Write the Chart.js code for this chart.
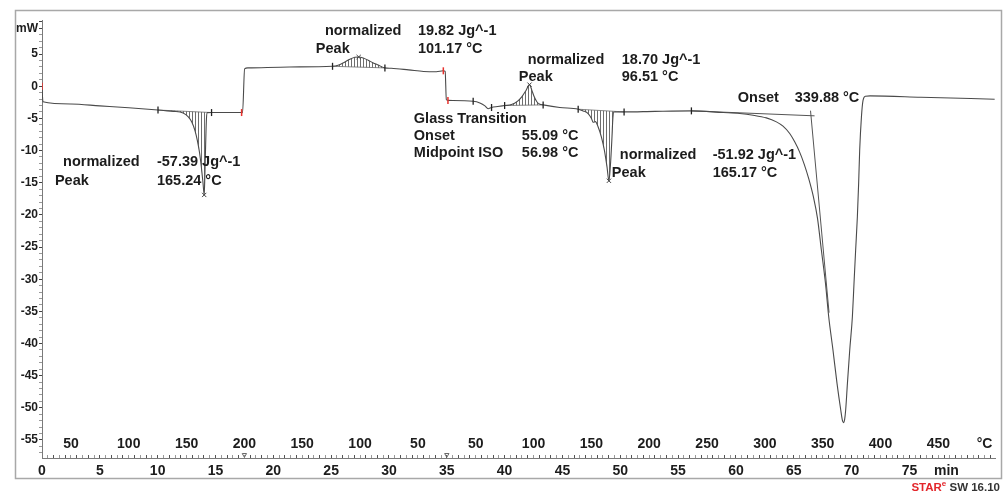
<!DOCTYPE html>
<html>
<head>
<meta charset="utf-8">
<title>DSC</title>
<script src="https://cdn.jsdelivr.net/npm/chart.js@4.4.1/dist/chart.umd.min.js"></script>
<style>
  html, body { margin: 0; padding: 0; background: #fff; }
  canvas { display: block; }
</style>
</head>
<body>
<canvas id="dscChart" width="1008" height="493"></canvas>
<script>
// heat flow curve, one pair of arrays per program segment (time in min, heat flow in mW)
const heat1T = [0, 0.08, 2.5, 5, 7.5, 10.03, 10.5, 11.35, 12.2, 12.65, 12.95, 13.22, 13.43, 13.62, 13.78, 13.92, 14.024, 14.08, 14.15, 14.22, 14.3, 14.66, 17.26, 17.34];
const heat1MW = [0, -2.4, -2.75, -3.05, -3.35, -3.7, -3.78, -3.9, -4.15, -4.75, -5.55, -6.85, -8.4, -10.3, -12.6, -15.0, -16.9, -14.0, -9.0, -5.0, -4.1, -4.09, -4.09, -4.1];

const coolT = [17.52, 17.8, 21.4, 25.12, 25.6, 26.19, 26.62, 27.05, 27.383, 27.77, 28.2, 28.6, 29.07, 29.65, 30.2, 31.7, 33.0, 34.1, 34.7, 34.86, 34.96];
const coolMW = [2.7, 2.85, 3.0, 3.1, 3.26, 3.78, 4.19, 4.5, 4.55, 4.4, 4.04, 3.67, 3.3, 2.85, 2.8, 2.55, 2.3, 2.25, 2.4, 2.3, -2.1];

const heat2T = [35.1, 37.28, 37.86, 38.3, 38.57, 38.87, 39.4, 40.0, 40.6, 41.1,
  41.5, 41.85, 42.151, 42.35, 42.55, 42.8, 43.05, 43.33, 44.77, 46.36,
  46.79, 47.22, 47.51, 47.65, 47.85, 48.08, 48.37, 48.62, 48.85, 49.017,
  49.14, 49.27, 49.35, 49.42, 50.33, 53.0, 56.15, 58.9, 60.33, 61.48,
  62.63, 63.5, 64.07, 64.65, 65.08, 65.5, 65.9, 66.3, 66.7, 67.05,
  67.39, 67.74, 68.02, 68.39, 68.74, 69.06, 69.2, 69.3, 69.4, 69.49,
  69.64, 69.84, 70.07, 70.21, 70.35, 70.5, 70.61, 70.7, 70.85, 70.99,
  71.2, 71.6, 76.0, 82.37];
const heat2MW = [-2.2, -2.33, -2.59, -3.05, -3.5, -3.3, -3.15, -3.0, -2.85, -2.35,
  -1.6, -0.65, 0.25, -0.6, -1.6, -2.45, -2.8, -2.9, -3.3, -3.57,
  -3.83, -4.24, -5.0, -5.6, -5.5, -6.3, -7.9, -9.9, -12.5, -14.7,
  -12.5, -8.4, -5.3, -4.0, -3.99, -3.9, -3.83, -4.09, -4.24, -4.5,
  -4.92, -5.54, -6.21, -7.35, -8.64, -10.2, -12.1, -14.4, -17.2, -20.5,
  -25.5, -30.6, -35.8, -41.0, -46.2, -50.3, -51.9, -52.3, -51.8, -50.3,
  -46.2, -41.0, -35.8, -30.6, -25.5, -20.3, -15.1, -9.94, -4.8, -2.2,
  -1.55, -1.5, -1.7, -2.02];

// temperature program: 25 -> 200 -> 25 -> 500 °C at 10 K/min
const segStart = [0, 17.5, 35];
const segTemp = [25, 200, 25];
const segRate = [10, -10, 10];

// axis ticks
const minTicks = [0, 5, 10, 15, 20, 25, 30, 35, 40, 45, 50, 55, 60, 65, 70, 75];
const mwTicks = [5, 0, -5, -10, -15, -20, -25, -30, -35, -40, -45, -50, -55];
const tempTickTimes = [2.5, 7.5, 12.5, 17.5, 22.5, 27.5, 32.5, 37.5, 42.5, 47.5, 52.5, 57.5, 62.5, 67.5, 72.5, 77.5];
const tempTickLabels = [50, 100, 150, 200, 150, 100, 50, 50, 100, 150, 200, 250, 300, 350, 400, 450];

// peak evaluations
const peakLimits = [[10.03, 14.66], [25.12, 29.65], [40.0, 43.33], [46.36, 50.33]];
const peakSeg = [0, 1, 2, 2];
const peakTemp = [165.24, 101.17, 96.51, 165.17];
const peakNorm = [-57.39, 19.82, 18.70, -51.92];

// glass transition and decomposition onset
const gtOnset = 55.09;
const gtMidpoint = 56.98;
const onsetTemp = 339.88;
const onsetBaseT = [56.15, 66.8];
const onsetBaseMW = [-3.83, -4.6];
const tangentT = [66.45, 68.05];
const tangentMW = [-3.8, -35.2];

// small markers along the curve
const limitMarks = [10.03, 14.66, 25.12, 29.65, 37.28, 38.87, 40.0, 43.33, 46.36, 50.33, 56.15];
const segmentMarks = [0, 17.26, 34.7, 35.1];

const curveT = heat1T.concat(coolT, heat2T);
const curveMW = heat1MW.concat(coolMW, heat2MW);
const curve = curveT.map((t, i) => ({ x: t, y: curveMW[i] }));

function nearest(t) {
  let best = 0;
  curveT.forEach((v, i) => { if (Math.abs(v - t) < Math.abs(curveT[best] - t)) best = i; });
  return curve[best];
}
function timeAt(seg, temp) {
  return segStart[seg] + (temp - segTemp[seg]) / segRate[seg];
}

const ctx = document.getElementById('dscChart').getContext('2d');

// vertical hatching for integrated peak areas
const hatchCanvas = document.createElement('canvas');
hatchCanvas.width = 3;
hatchCanvas.height = 8;
const hg = hatchCanvas.getContext('2d');
hg.fillStyle = '#6e6e6e';
hg.fillRect(0, 0, 1, 8);
const hatch = ctx.createPattern(hatchCanvas, 'repeat');

const datasets = [];
// integration baselines (indices 0..3)
peakLimits.forEach(lim => {
  datasets.push({
    data: [nearest(lim[0]), nearest(lim[1])],
    borderColor: '#6a6a6a', borderWidth: 0.8, pointRadius: 0, fill: false, order: 3
  });
});
// hatched areas between curve and baseline
peakLimits.forEach((lim, k) => {
  datasets.push({
    data: curve.filter(p => p.x >= lim[0] - 1e-6 && p.x <= lim[1] + 1e-6),
    borderWidth: 0, pointRadius: 0, backgroundColor: hatch,
    fill: { target: k }, cubicInterpolationMode: 'monotone', order: 4
  });
});
// the measured curve
datasets.push({
  data: curve, borderColor: '#4a4a4a', borderWidth: 1.1, pointRadius: 0,
  fill: false, cubicInterpolationMode: 'monotone', order: 1
});
// onset construction lines
datasets.push({
  data: onsetBaseT.map((t, i) => ({ x: t, y: onsetBaseMW[i] })),
  borderColor: '#555', borderWidth: 1, pointRadius: 0, fill: false, order: 2
});
datasets.push({
  data: tangentT.map((t, i) => ({ x: t, y: tangentMW[i] })),
  borderColor: '#555', borderWidth: 1, pointRadius: 0, fill: false, order: 2
});
// limit ticks, segment ticks, peak crosses
datasets.push({
  data: limitMarks.map(nearest), showLine: false,
  pointStyle: 'line', rotation: 90, pointRadius: 3.5, pointBorderWidth: 1.3,
  pointBorderColor: '#222', order: 0
});
datasets.push({
  data: segmentMarks.map(nearest), showLine: false,
  pointStyle: 'line', rotation: 90, pointRadius: 3.5, pointBorderWidth: 1.5,
  pointBorderColor: '#e8322e', order: 0
});
datasets.push({
  data: peakTemp.map((T, i) => nearest(timeAt(peakSeg[i], T))), showLine: false,
  pointStyle: 'crossRot', pointRadius: 3, pointBorderWidth: 1,
  pointBorderColor: '#444', order: 0
});
datasets.push({
  data: segStart.slice(1).map(t => ({ x: t, y: -57.3 })), showLine: false,
  pointStyle: 'triangle', rotation: 180, pointRadius: 2.5, pointBorderWidth: 1,
  pointBorderColor: '#666', pointBackgroundColor: 'rgba(0,0,0,0)', order: 0
});

// text blocks next to each evaluation
const fmt = v => v.toFixed(2);
const notes = [
  { t: 1.82, mw: -11.8, text: 'normalized' }, { t: 9.94, mw: -11.8, text: fmt(peakNorm[0]) + ' Jg^-1' },
  { t: 1.12, mw: -14.75, text: 'Peak' }, { t: 9.94, mw: -14.75, text: fmt(peakTemp[0]) + ' °C' },
  { t: 24.46, mw: 8.54, text: 'normalized' }, { t: 32.5, mw: 8.54, text: fmt(peakNorm[1]) + ' Jg^-1' },
  { t: 23.68, mw: 5.75, text: 'Peak' }, { t: 32.5, mw: 5.75, text: fmt(peakTemp[1]) + ' °C' },
  { t: 42.0, mw: 4.04, text: 'normalized' }, { t: 50.13, mw: 4.04, text: fmt(peakNorm[2]) + ' Jg^-1' },
  { t: 41.23, mw: 1.4, text: 'Peak' }, { t: 50.13, mw: 1.4, text: fmt(peakTemp[2]) + ' °C' },
  { t: 49.96, mw: -10.71, text: 'normalized' }, { t: 57.99, mw: -10.71, text: fmt(peakNorm[3]) + ' Jg^-1' },
  { t: 49.27, mw: -13.51, text: 'Peak' }, { t: 57.99, mw: -13.51, text: fmt(peakTemp[3]) + ' °C' },
  { t: 32.15, mw: -5.12, text: 'Glass Transition' },
  { t: 32.15, mw: -7.76, text: 'Onset' }, { t: 41.49, mw: -7.76, text: fmt(gtOnset) + ' °C' },
  { t: 32.15, mw: -10.4, text: 'Midpoint ISO' }, { t: 41.49, mw: -10.4, text: fmt(gtMidpoint) + ' °C' },
  { t: 60.16, mw: -1.86, text: 'Onset' }, { t: 65.08, mw: -1.86, text: fmt(onsetTemp) + ' °C' }
];

const FONT = '"Liberation Sans", Arial, sans-serif';

const frameAndText = {
  id: 'frameAndText',
  beforeDraw(chart) {
    const c = chart.ctx;
    c.save();
    c.fillStyle = '#fff';
    c.fillRect(0, 0, chart.width, chart.height);
    c.strokeStyle = '#a8a8a8';
    c.lineWidth = 1.5;
    c.strokeRect(15.5, 10.5, 986, 468);
    c.restore();
  },
  afterDraw(chart) {
    const c = chart.ctx;
    const xs = chart.scales.x, ys = chart.scales.y;
    const area = chart.chartArea;
    c.save();
    c.fillStyle = '#1c1c1c';
    c.textBaseline = 'middle';
    c.font = 'bold 14.5px ' + FONT;
    notes.forEach(n => c.fillText(n.text, xs.getPixelForValue(n.t), ys.getPixelForValue(n.mw)));

    // axis units
    c.font = 'bold 14px ' + FONT;
    c.textAlign = 'center';
    c.fillText('°C', xs.getPixelForValue(81.5), area.bottom - 14);
    c.fillText('min', xs.getPixelForValue(78.2), area.bottom + 13);

    // software tag
    c.textAlign = 'left';
    c.font = 'bold 11.5px ' + FONT;
    const wStar = c.measureText('STAR').width;
    const wRest = c.measureText(' SW 16.10').width;
    c.font = 'bold 8px ' + FONT;
    const wE = c.measureText('e').width;
    let x0 = 1000 - wStar - wE - wRest;
    c.font = 'bold 11.5px ' + FONT;
    c.fillStyle = '#e3262b';
    c.fillText('STAR', x0, 488);
    c.font = 'bold 8px ' + FONT;
    c.fillText('e', x0 + wStar, 484);
    c.font = 'bold 11.5px ' + FONT;
    c.fillStyle = '#333';
    c.fillText(' SW 16.10', x0 + wStar + wE, 488);
    c.restore();
  }
};

Chart.defaults.font.family = FONT;
Chart.defaults.font.weight = 'bold';
Chart.defaults.color = '#1c1c1c';

new Chart(ctx, {
  type: 'line',
  data: { datasets: datasets },
  options: {
    responsive: false,
    animation: false,
    events: [],
    layout: { padding: { left: 0, right: 13, top: 20, bottom: 0 } },
    plugins: { legend: { display: false }, tooltip: { enabled: false } },
    scales: {
      x: {
        type: 'linear', min: 0, max: 82.4,
        afterFit(scale) { scale.height = 35; },
        afterBuildTicks(scale) {
          const t = [];
          for (let v = 0; v <= 82; v += 0.5) t.push({ value: v });
          scale.ticks = t;
        },
        ticks: {
          autoSkip: false, maxRotation: 0, padding: 7.6,
          font: { size: 14, weight: 'bold' },
          callback: v => minTicks.includes(v) ? String(v) : ''
        },
        grid: {
          drawOnChartArea: false, tickLength: -3,
          tickColor: c => (c.tick && c.tick.value % 1 === 0) ? '#555' : '#999'
        },
        border: { color: '#7a7a7a', width: 1 }
      },
      xT: {
        type: 'linear', axis: 'x', position: { y: -54 }, min: 0, max: 82.4,
        afterBuildTicks(scale) { scale.ticks = tempTickTimes.map(v => ({ value: v })); },
        ticks: {
          autoSkip: false, maxRotation: 0, padding: 2,
          font: { size: 14, weight: 'bold' },
          callback: (v, i) => String(tempTickLabels[i])
        },
        grid: { display: false, drawTicks: false },
        border: { display: false }
      },
      y: {
        type: 'linear', min: -57.8, max: 10.3,
        afterFit(scale) { scale.width = 42; },
        afterBuildTicks(scale) {
          const t = [];
          for (let v = -57; v <= 10; v++) t.push({ value: v });
          scale.ticks = t;
        },
        ticks: {
          autoSkip: false, padding: 1,
          font: { size: 12, weight: 'bold' },
          callback: v => v === 9 ? 'mW' : (mwTicks.includes(v) ? String(v) : '')
        },
        grid: {
          drawOnChartArea: false, tickLength: 3,
          tickColor: c => (c.tick && (c.tick.value % 5 === 0 || c.tick.value === 9)) ? '#444' : '#999'
        },
        border: { color: '#7a7a7a', width: 1 }
      }
    }
  },
  plugins: [frameAndText]
});
</script>
</body>
</html>
